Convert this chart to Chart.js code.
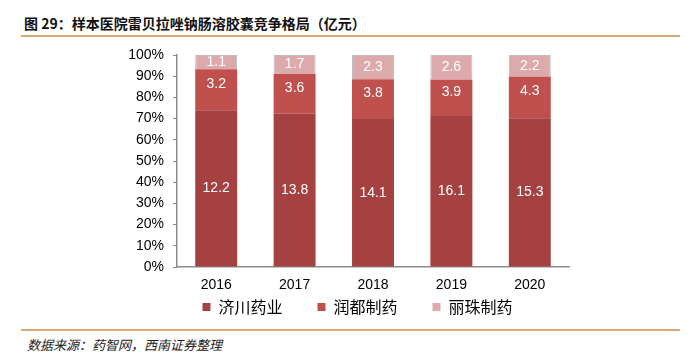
<!DOCTYPE html>
<html>
<head>
<meta charset="utf-8">
<script src="https://cdn.jsdelivr.net/npm/chart.js@4/dist/chart.umd.min.js"></script>
<style>
  body { margin: 0; background: #fff; width: 693px; height: 352px; position: relative; overflow: hidden; }
  #title { position: absolute; left: 24px; top: 13px; font: bold 14px "Noto Sans CJK SC", sans-serif; color: #111; }
  .rule { position: absolute; left: 21px; width: 659px; height: 2px; background: #d9aa72; }
  #src { position: absolute; left: 27px; top: 335px; font: italic 13px "Noto Sans CJK SC", sans-serif; color: #222; }
  #wrap { position: absolute; left: 0; top: 0; width: 693px; height: 325px; }
</style>
</head>
<body>
<div id="title">图 29：样本医院雷贝拉唑钠肠溶胶囊竞争格局（亿元）</div>
<div class="rule" style="top:35px"></div>
<div id="wrap"><canvas id="chart" width="693" height="325"></canvas></div>
<div class="rule" style="top:329px"></div>
<div id="src">数据来源：药智网，西南证券整理</div>
<script>
var years = ['2016', '2017', '2018', '2019', '2020'];
var jichuan = [12.2, 13.8, 14.1, 16.1, 15.3];
var rundu = [3.2, 3.6, 3.8, 3.9, 4.3];
var lizhu = [1.1, 1.7, 2.3, 2.6, 2.2];

var totals = years.map((_, i) => jichuan[i] + rundu[i] + lizhu[i]);
function share(arr) { return arr.map((v, i) => v / totals[i] * 100); }

// raw values written inside each segment (middle series sits a bit high, like the original)
var valueLabels = {
  id: 'valueLabels',
  afterDatasetsDraw(chart) {
    var ctx = chart.ctx;
    ctx.save();
    ctx.fillStyle = '#fff';
    ctx.font = '14px "Liberation Sans", Arial, sans-serif';
    ctx.textAlign = 'center';
    ctx.textBaseline = 'middle';
    chart.data.datasets.forEach((ds, d) => {
      chart.getDatasetMeta(d).data.forEach((bar, i) => {
        var y = (bar.y + bar.base) / 2 + (d === 1 ? -6 : 0);
        ctx.fillText(ds.raw[i].toFixed(1), bar.x, y);
      });
    });
    ctx.restore();
  }
};

// legend in the original sits a little right of the plot centre
var legendShift = {
  id: 'legendShift',
  afterLayout(chart) {
    chart.legend.left += 17;
    chart.legend.right += 17;
  }
};

var gap = '\u3000\u3000';
new Chart(document.getElementById('chart'), {
  type: 'bar',
  data: {
    labels: years,
    datasets: [{
      label: '济川药业',
      raw: jichuan,
      data: share(jichuan),
      backgroundColor: '#a54140'
    }, {
      label: '润都制药',
      raw: rundu,
      data: share(rundu),
      backgroundColor: '#c0504d'
    }, {
      label: '丽珠制药',
      raw: lizhu,
      data: share(lizhu),
      backgroundColor: '#dcaaaa',
      borderColor: '#bdbdbd',
      borderWidth: {left: 1, right: 1, top: 1, bottom: 0},
      borderSkipped: false
    }]
  },
  options: {
    responsive: false,
    animation: false,
    layout: { padding: { left: 112, right: 124, top: 55, bottom: 0 } },
    datasets: { bar: { categoryPercentage: 1, barPercentage: 0.535 } },
    scales: {
      x: {
        stacked: true,
        afterFit: s => { s.height = 29; },
        grid: { display: false, drawTicks: false },
        border: { color: '#8c8c8c', width: 1.5 },
        ticks: { color: '#000', font: { size: 14, family: '"Liberation Sans", Arial' }, padding: 10 }
      },
      y: {
        stacked: true,
        min: 0,
        max: 100,
        afterFit: s => { s.width = 65; },
        grid: { drawOnChartArea: false, tickLength: 4, color: '#8c8c8c' },
        border: { color: '#8c8c8c', width: 1.5 },
        ticks: {
          stepSize: 10,
          autoSkip: false,
          color: '#000',
          padding: 9,
          font: { size: 14, family: '"Liberation Sans", Arial' },
          callback: v => v + '%'
        }
      }
    },
    plugins: {
      tooltip: { enabled: false },
      legend: {
        position: 'bottom',
        labels: {
          boxWidth: 8,
          boxHeight: 8,
          padding: 3,
          color: '#000',
          font: { size: 16, family: '"Noto Sans CJK SC"' },
          generateLabels: chart => Chart.defaults.plugins.legend.labels.generateLabels(chart).map((item, i, all) => {
            if (i < all.length - 1) item.text += gap;
            item.lineWidth = 0;
            return item;
          })
        }
      }
    }
  },
  plugins: [valueLabels, legendShift]
});
</script>
</body>
</html>
